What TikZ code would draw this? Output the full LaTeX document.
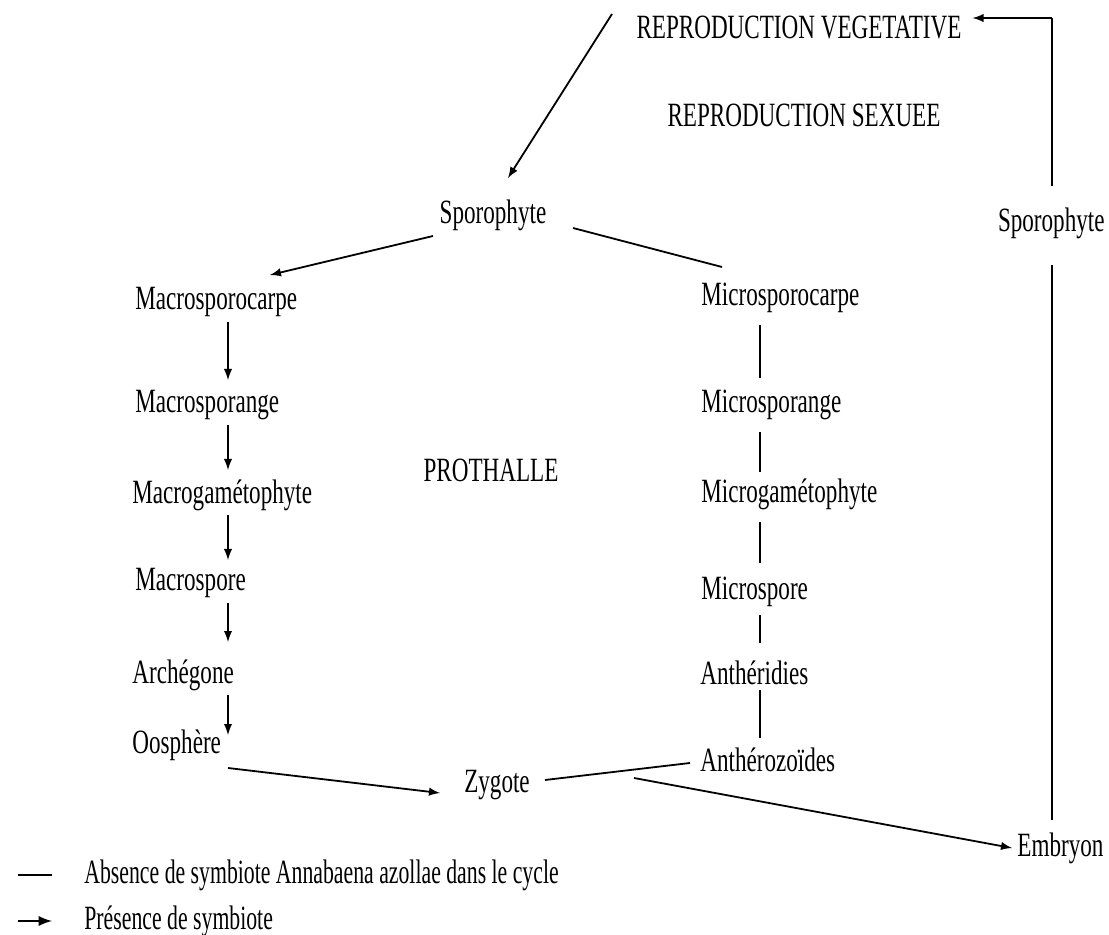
\documentclass[tikz,border=0pt]{standalone}
\usepackage{fontspec}
\setmainfont{Liberation Serif}[FakeStretch=0.68]
\newfontfamily\legendefont{Liberation Serif}[FakeStretch=0.64]
\usetikzlibrary{positioning,calc}

\begin{document}
\begin{tikzpicture}[x=0.5pt,y=-0.5pt,>=latex,
	every node/.style={font=\fontsize{17}{19}\selectfont},
	stade/.style={anchor=west,inner sep=1pt},
	lien/.style={line width=0.9pt},
	fleche/.style={line width=0.9pt,->}]
\useasboundingbox (0,0) rectangle (1109,935);

% titres
\node (veget) at (799,28) {REPRODUCTION VEGETATIVE};
\node (sexuee) at (804,115) {REPRODUCTION SEXUEE};
\node (prothalle) at (491,470) {PROTHALLE};

% sporophytes
\node (sporo) at (493,215) {Sporophyte};
\node[anchor=east,inner sep=1pt] (sporod) at (1107,223) {Sporophyte};

% branche macro
\node[stade] (macarpe) at (133,302) {Macrosporocarpe};
\node[stade] (masporange) at (133,405) {Macrosporange};
\node[stade] (magameto) at (130,495) {Macrogamétophyte};
\node[stade] (maspore) at (133,583) {Macrospore};
\node[stade] (archegone) at (130,675) {Archégone};
\node[stade] (oosphere) at (130,745) {Oosphère};

% branche micro
\node[stade] (micarpe) at (699,298) {Microsporocarpe};
\node[stade] (misporange) at (699,405) {Microsporange};
\node[stade] (migameto) at (699,494) {Microgamétophyte};
\node[stade] (mispore) at (699,592) {Microspore};
\node[stade] (antheridies) at (698,673) {Anthéridies};
\node[stade] (antherozo) at (698,760) {Anthérozoïdes};

\node (zygote) at (497,785) {Zygote};
\node[stade] (embryon) at (1015,848) {Embryon};

\coordinate (gx) at (228,0);
\coordinate (dx) at (760,0);
\coordinate (vx) at (1052,0);
\coordinate (haut) at (1052,18);

% cycle vegetatif
\draw[fleche] ($(veget)+(-187,-14)$) -- ($(sporo)+(15,-37)$);
\draw[lien] ($(vx |- sporod)+(0,-37)$) -- (haut);
\draw[fleche] (haut) -- ($(veget.east |- haut)+(4,0)$);
\draw[lien] ($(vx |- embryon)+(0,-28)$) -- ($(vx |- sporod)+(0,42)$);

% cycle sexue
\draw[fleche] ($(sporo)+(-60,21)$) -- ($(macarpe.west)+(137,-27)$);
\draw[lien] ($(sporo)+(80,13)$) -- ($(micarpe.west)+(23,-31)$);
\foreach \a/\b/\e in {macarpe/masporange/-25,masporange/magameto/-25,magameto/maspore/-23,maspore/archegone/-33,archegone/oosphere/-10}
	\draw[fleche] ($(gx |- \a.west)+(0,20)$) -- ($(gx |- \b.west)+(0,\e)$);
\foreach \a/\b/\s/\e in {micarpe/misporange/27/-27,misporange/migameto/27/-22,migameto/mispore/28/-29,mispore/antheridies/23/-30,antheridies/antherozo/17/-22}
	\draw[lien] ($(dx |- \a.west)+(0,\s)$) -- ($(dx |- \b.west)+(0,\e)$);

\draw[fleche] ($(oosphere.west)+(98,23)$) -- ($(zygote)+(-57,8)$);
\draw[lien] ($(zygote)+(48,-5)$) -- ($(antherozo.west)+(-8,3)$);
\draw[fleche] ($(zygote)+(137,-7)$) -- ($(embryon.west)+(-3,0)$);

% legende
\node[stade,font=\fontsize{17}{19}\legendefont] (absence) at (82,875) {Absence de symbiote Annabaena azollae dans le cycle};
\node[stade,font=\fontsize{17}{19}\legendefont] (presence) at (82,921) {Présence de symbiote};
\draw[line width=1.3pt] ($(absence.west)+(-64,0)$) -- ($(absence.west)+(-30,0)$);
\draw[line width=1.3pt,->] ($(presence.west)+(-64,0)$) -- ($(presence.west)+(-30,0)$);
\end{tikzpicture}
\end{document}
